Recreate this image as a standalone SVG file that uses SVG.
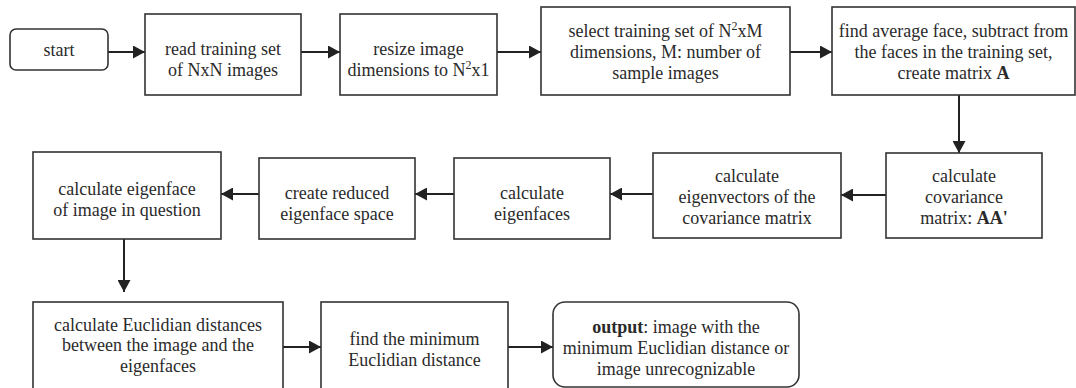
<svg xmlns="http://www.w3.org/2000/svg" width="1076" height="388" viewBox="0 0 1076 388">
<defs>
<style>
.box{fill:#fff;stroke:#333;stroke-width:1.6}
.t{font-family:'Liberation Serif','Times New Roman','DejaVu Serif',serif;font-size:18px;fill:#2a2a2a;text-anchor:middle}
.b{font-weight:bold}
.c{stroke:#222;stroke-width:2;fill:none;marker-end:url(#ah)}
</style>
<marker id="ah" markerUnits="userSpaceOnUse" markerWidth="12" markerHeight="13" refX="12" refY="6.5" orient="auto">
<path d="M0,0 L12,6.5 L0,13 z" fill="#222"/>
</marker>
</defs>
<rect width="1076" height="388" fill="#fff"/>
<g id="connectors">
<line class="c" x1="108" y1="52" x2="145" y2="52"/>
<line class="c" x1="301" y1="52" x2="340" y2="52"/>
<line class="c" x1="497" y1="52" x2="541" y2="52"/>
<line class="c" x1="790" y1="52" x2="832" y2="52"/>
<line class="c" x1="959" y1="95" x2="959" y2="153"/>
<line class="c" x1="886" y1="195" x2="841" y2="195"/>
<line class="c" x1="653" y1="194" x2="610" y2="194"/>
<line class="c" x1="454" y1="194" x2="415" y2="194"/>
<line class="c" x1="259" y1="194" x2="221" y2="194"/>
<line class="c" x1="124" y1="239" x2="124" y2="292"/>
<line class="c" x1="283" y1="347" x2="321" y2="347"/>
<line class="c" x1="508" y1="347" x2="553" y2="347"/>
</g>
<g id="start">
<rect class="box" x="10" y="29" width="98" height="41" rx="6"/>
<text class="t" font-family="Liberation Serif, serif" x="59" y="56">start</text>
</g>
<g id="read">
<rect class="box" x="145" y="14" width="156" height="81"/>
<text class="t" x="223" y="55">read training set</text>
<text class="t" x="223" y="76">of NxN images</text>
</g>
<g id="resize">
<rect class="box" x="340" y="14" width="157" height="81"/>
<text class="t" x="418.5" y="55">resize image</text>
<text class="t" x="418.5" y="76">dimensions to N<tspan font-size="12" dy="-7">2</tspan><tspan dy="7">x1</tspan></text>
</g>
<g id="select">
<rect class="box" x="541" y="7" width="249" height="88"/>
<text class="t" x="665.5" y="37">select training set of N<tspan font-size="12" dy="-7">2</tspan><tspan dy="7">xM</tspan></text>
<text class="t" x="665.5" y="58">dimensions, M: number of</text>
<text class="t" x="665.5" y="79">sample images</text>
</g>
<g id="average">
<rect class="box" x="832" y="7" width="243" height="88"/>
<text class="t" x="953.5" y="37">find average face, subtract from</text>
<text class="t" x="953.5" y="58">the faces in the training set,</text>
<text class="t" x="953.5" y="79">create matrix <tspan class="b">A</tspan></text>
</g>
<g id="covariance">
<rect class="box" x="886" y="153" width="156" height="85"/>
<text class="t" x="964" y="182">calculate</text>
<text class="t" x="964" y="203">covariance</text>
<text class="t" x="964" y="224">matrix: <tspan class="b">AA'</tspan></text>
</g>
<g id="eigenvectors">
<rect class="box" x="653" y="153" width="188" height="85"/>
<text class="t" x="747" y="182">calculate</text>
<text class="t" x="747" y="203">eigenvectors of the</text>
<text class="t" x="747" y="224">covariance matrix</text>
</g>
<g id="eigenfaces">
<rect class="box" x="454" y="158" width="156" height="81"/>
<text class="t" x="532" y="199">calculate</text>
<text class="t" x="532" y="220">eigenfaces</text>
</g>
<g id="reduced">
<rect class="box" x="259" y="158" width="156" height="81"/>
<text class="t" x="337" y="199">create reduced</text>
<text class="t" x="337" y="220">eigenface space</text>
</g>
<g id="eigenface">
<rect class="box" x="33" y="152" width="188" height="87"/>
<text class="t" x="127" y="195">calculate eigenface</text>
<text class="t" x="127" y="216">of image in question</text>
</g>
<g id="euclidian">
<rect class="box" x="33" y="302" width="250" height="92"/>
<text class="t" x="158" y="331">calculate Euclidian distances</text>
<text class="t" x="158" y="351">between the image and the</text>
<text class="t" x="158" y="372">eigenfaces</text>
</g>
<g id="minimum">
<rect class="box" x="321" y="302" width="187" height="92"/>
<text class="t" x="414.5" y="345">find the minimum</text>
<text class="t" x="414.5" y="366">Euclidian distance</text>
</g>
<g id="output">
<rect class="box" x="553" y="302" width="246" height="85" rx="12"/>
<text class="t" x="676" y="333"><tspan class="b">output</tspan>: image with the</text>
<text class="t" x="676" y="354">minimum Euclidian distance or</text>
<text class="t" x="676" y="375">image unrecognizable</text>
</g>
</svg>
